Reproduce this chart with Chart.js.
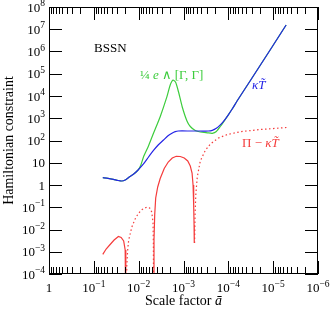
<!DOCTYPE html>
<html><head><meta charset="utf-8">
<script src="https://cdn.jsdelivr.net/npm/chart.js@4/dist/chart.umd.min.js"></script>
<style>html,body{margin:0;padding:0;background:#fff}canvas{display:block}</style>
</head><body>
<canvas id="c" width="331" height="309"></canvas>
<script>
// ---- data (scale factor a, value) ----
const blueA = [0.0631,0.0481,0.0366,0.0287,0.0237,0.0200,0.0167,0.0131,0.0103,7.81e-3,6.13e-3,4.67e-3,3.67e-3,2.79e-3,2.25e-3,1.81e-3,1.53e-3,1.31e-3,7.06e-4,4.22e-4,2.80e-4,2.28e-4,1.85e-4,1.51e-4,1.23e-4,1.00e-4,8.14e-5,6.39e-5,3.22e-5,1.15e-5,5.14e-6];
const blueV = [2.13,2.00,1.80,1.59,1.51,1.68,2.17,3.03,4.72,8.79,17.2,35.6,62.8,105,159,211,249,267,267,267,267,287,353,502,809,1430,2660,5960,4.98e4,1.23e6,1.55e7];

const greenA = [0.0631,0.0481,0.0366,0.0287,0.0237,0.0200,0.0167,0.0131,0.0103,9.02e-3,7.81e-3,6.04e-3,4.67e-3,3.31e-3,2.34e-3,1.98e-3,1.71e-3,1.49e-3,1.29e-3,1.07e-3,8.37e-4,7.06e-4,5.46e-4,4.22e-4,2.94e-4,2.28e-4,1.85e-4,1.51e-4,1.23e-4,1.00e-4,8.14e-5,6.39e-5,3.22e-5,1.15e-5,5.14e-6];
const greenV = [2.13,2.00,1.80,1.59,1.51,1.68,2.17,3.03,4.72,7.52,18.1,56.6,211,1175,9310,3.12e4,5.24e4,4.04e4,1.51e4,3300,752,426,281,241,222,211,253,426,767,1430,2660,5960,4.98e4,1.23e6,1.55e7];

// red: |Π − κT̃|, solid = positive branch, dotted = negative branch
const redSolid1A = [0.0631,0.0532,0.0433,0.0353,0.0283,0.0246,0.0216,0.0200,0.0195,0.0192];
const redSolid1V = [7.67e-4,1.33e-3,2.12e-3,3.37e-3,4.84e-3,4.37e-3,3.04e-3,1.20e-3,3.46e-4,1e-6];
const redDot1A = [0.0188,0.0184,0.0176,0.0167,0.0142,0.0120,0.0101,8.35e-3,6.56e-3,5.68e-3,5.12e-3,4.79e-3,4.69e-3,4.67e-3];
const redDot1V = [1e-6,2.29e-4,1.20e-3,3.37e-3,0.0129,0.0296,0.0535,0.0792,0.1026,0.0925,0.0612,0.0217,2.01e-3,1e-6];
const redSolid2A = [4.62e-3,4.55e-3,4.39e-3,4.17e-3,3.76e-3,3.31e-3,2.69e-3,2.19e-3,1.78e-3,1.45e-3,1.18e-3,9.62e-4,8.04e-4,7.06e-4,6.44e-4,6.12e-4,5.93e-4,5.81e-4,5.75e-4];
const redSolid2V = [1e-6,3.37e-3,0.0449,0.261,0.813,1.96,5.52,10.8,16.3,19.5,19.1,16.3,12.0,7.15,3.46,1.0,0.126,0.0159,2.47e-3];
const redDot2A = [5.66e-4,5.52e-4,5.32e-4,4.93e-4,4.22e-4,3.27e-4,2.52e-4,1.67e-4,1.05e-4,5.39e-5,1.93e-5,5.06e-6];
const redDot2V = [2.47e-3,0.0449,0.356,2.29,12.0,35.6,69.6,129,186,249,312,384];

const xTickExps = [0,-1,-2,-3,-4,-5,-6];
const yTickExps = [-4,-3,-2,-1,0,1,2,3,4,5,6,7,8];

const BLUE = '#2424e6', GREEN = '#3ccc3c', RED = '#f53c3c';
const SERIF = '"Liberation Serif","DejaVu Serif",serif';

function pts(a, v){ return a.map((x,i)=>({x:x, y:v[i]})); }

function drawParts(ctx, parts, x, y, align){
  let w = 0;
  parts.forEach(p=>{ ctx.font = p.font; w += ctx.measureText(p.t).width + (p.gap||0); });
  let cx = align==='right' ? x - w : align==='center' ? x - w/2 : x;
  parts.forEach(p=>{
    ctx.font = p.font; ctx.fillStyle = p.color || '#000';
    ctx.textAlign = 'left'; ctx.textBaseline = 'alphabetic';
    ctx.fillText(p.t, cx, y + (p.dy||0));
    cx += ctx.measureText(p.t).width + (p.gap||0);
  });
}
function powParts(e){
  if (e===0) return [{t:'1', font:'13px '+SERIF}];
  if (e===1) return [{t:'10', font:'13px '+SERIF}];
  return [{t:'10', font:'13px '+SERIF},{t:(e<0?'\u2212':'')+Math.abs(e), font:'9.5px '+SERIF, dy:-5.5}];
}

const deco = {
  id:'deco',
  afterDraw(chart){
    const ctx = chart.ctx, ca = chart.chartArea, xs = chart.scales.x, ys = chart.scales.y;
    ctx.save();
    ctx.strokeStyle = '#000'; ctx.lineWidth = 1;
    // x ticks (top and bottom, inside)
    for (let e=0; e>=-6; e--){
      for (let k=1; k<=9; k++){
        const v = k*Math.pow(10,e);
        if (v>1 || v<1e-6) continue;
        const px = Math.round(xs.getPixelForValue(v))+0.5;
        const L = k===1 ? 13 : 7;
        ctx.beginPath();
        ctx.moveTo(px, ca.bottom); ctx.lineTo(px, ca.bottom-L);
        ctx.moveTo(px, ca.top); ctx.lineTo(px, ca.top+L);
        ctx.stroke();
      }
    }
    // y ticks (left and right, inside)
    yTickExps.forEach(e=>{
      const py = Math.round(ys.getPixelForValue(Math.pow(10,e)))+0.5;
      ctx.beginPath();
      ctx.moveTo(ca.left, py); ctx.lineTo(ca.left+13, py);
      ctx.moveTo(ca.right, py); ctx.lineTo(ca.right-13, py);
      ctx.stroke();
    });
    // frame
    ctx.strokeRect(Math.round(ca.left)+0.5, Math.round(ca.top)+0.5, Math.round(ca.right-ca.left)-1, Math.round(ca.bottom-ca.top)-1);
    // tick labels
    yTickExps.forEach(e=>{
      const py = ys.getPixelForValue(Math.pow(10,e));
      drawParts(ctx, powParts(e), 45, py+4.5, 'right');
    });
    xTickExps.forEach(e=>{
      const px = xs.getPixelForValue(Math.pow(10,e));
      drawParts(ctx, powParts(e), px, ca.bottom+18, 'center');
    });
    // axis titles
    drawParts(ctx, [{t:'Scale factor ', font:'14px '+SERIF},{t:'\u0101', font:'italic 14px '+SERIF}], (ca.left+ca.right)/2, 305, 'center');
    ctx.save();
    ctx.translate(13, (ca.top+ca.bottom)/2);
    ctx.rotate(-Math.PI/2);
    drawParts(ctx, [{t:'Hamiltonian constraint', font:'14px '+SERIF}], 0, 0, 'center');
    ctx.restore();
    // annotations
    drawParts(ctx, [{t:'BSSN', font:'13px '+SERIF}], 94, 52, 'left');
    drawParts(ctx, [
      {t:'\u00BC ', font:'13px '+SERIF, color:GREEN},
      {t:'e', font:'italic 13px '+SERIF, color:GREEN},
      {t:' \u2227 [\u0393, \u0393]', font:'13px '+SERIF, color:GREEN}
    ], 140, 79, 'left');
    drawParts(ctx, [{t:'\u03BAT\u0303', font:'italic 13px '+SERIF, color:BLUE}], 252, 89, 'left');
    drawParts(ctx, [
      {t:'\u03A0 \u2212 ', font:'13px '+SERIF, color:RED},
      {t:'\u03BAT\u0303', font:'italic 13px '+SERIF, color:RED}
    ], 242, 147, 'left');
    ctx.restore();
  }
};

const common = {pointRadius:0, fill:false, borderWidth:1.2};
new Chart(document.getElementById('c'), {
  type:'line',
  data:{datasets:[
    Object.assign({data:pts(blueA,blueV), borderColor:BLUE, tension:0.2, order:0}, common),
    Object.assign({data:pts(greenA,greenV), borderColor:GREEN, tension:0.2, order:1}, common),
    Object.assign({data:pts(redSolid1A,redSolid1V), borderColor:RED, tension:0, order:2}, common),
    Object.assign({data:pts(redDot1A,redDot1V), borderColor:RED, borderDash:[1.5,2.5], tension:0, order:2}, common),
    Object.assign({data:pts(redSolid2A,redSolid2V), borderColor:RED, tension:0, order:2}, common),
    Object.assign({data:pts(redDot2A,redDot2V), borderColor:RED, borderDash:[1.5,2.5], tension:0, order:2}, common)
  ]},
  options:{
    responsive:false, animation:false, devicePixelRatio:1,
    layout:{padding:{left:49, right:13, top:7, bottom:35}},
    plugins:{legend:{display:false}, tooltip:{enabled:false}},
    scales:{
      x:{type:'logarithmic', min:1e-6, max:1, reverse:true, display:false},
      y:{type:'logarithmic', min:1e-4, max:1e8, display:false}
    }
  },
  plugins:[deco]
});
</script>
</body></html>
